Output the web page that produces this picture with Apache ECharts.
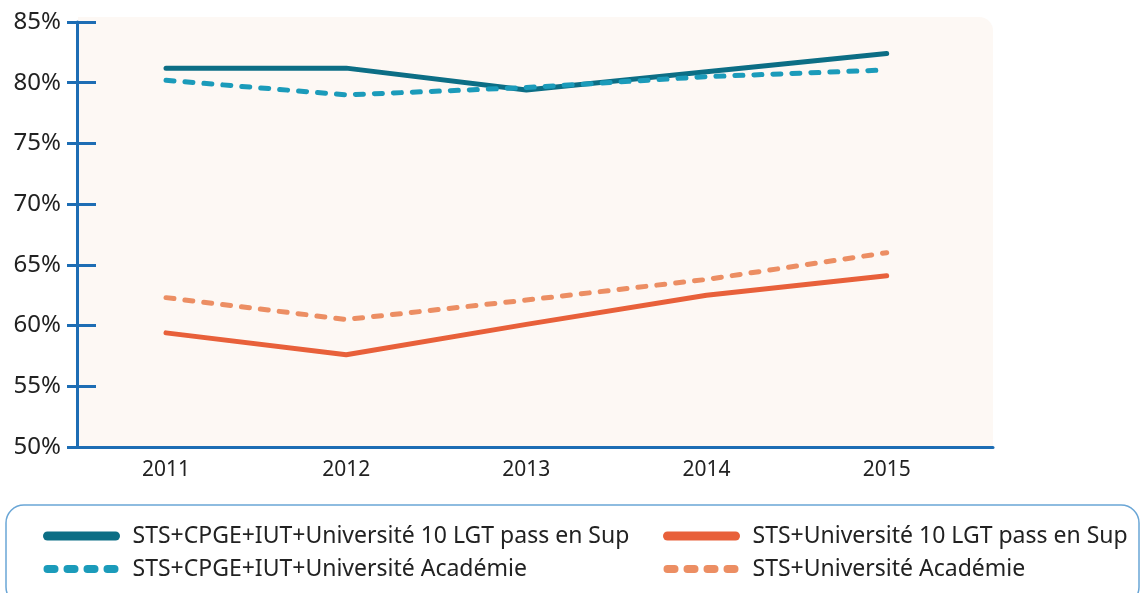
<!DOCTYPE html>
<html>
<head>
<meta charset="utf-8">
<script src="https://cdn.jsdelivr.net/npm/echarts@6/dist/echarts.min.js"></script>
<style>
  html, body { margin: 0; padding: 0; background: #fff; }
  #chart { width: 1145px; height: 593px; }
</style>
</head>
<body>
<div id="chart"></div>
<script>
var years = [2011, 2012, 2013, 2014, 2015];
var seriesNames = [
    'STS+CPGE+IUT+Université 10 LGT pass en Sup',
    'STS+CPGE+IUT+Université Académie',
    'STS+Université 10 LGT pass en Sup',
    'STS+Université Académie'
];
var cpgeLgt = [81.2, 81.2, 79.4, 80.9, 82.4];
var cpgeAcad = [80.2, 79.0, 79.6, 80.5, 81.05];
var univLgt = [59.4, 57.6, 60.1, 62.5, 64.1];
var univAcad = [62.3, 60.5, 62.1, 63.8, 66.0];

var blue = '#1d6db4';
var font = 'Noto Sans';

function pairs(values) {
    return years.map(function (y, i) { return [y, values[i]]; });
}

function line(name, values, color, dashed) {
    return {
        name: name,
        type: 'line',
        data: pairs(values),
        symbol: 'none',
        z: 3,
        lineStyle: {
            color: color,
            width: 5,
            type: dashed ? [8, 11] : 'solid',
            cap: 'round',
            join: 'round'
        },
        itemStyle: { color: color }
    };
}

function legendItem(name, dashed) {
    return {
        name: name,
        itemStyle: { opacity: 0 },
        lineStyle: dashed ? { width: 8, type: [7, 13], cap: 'round' } : { width: 9, type: 'solid', cap: 'round' }
    };
}

var myChart = echarts.init(document.getElementById('chart'));

var legendText = {
    fontFamily: font,
    fontSize: 23,
    color: '#222',
    lineHeight: 26,
    padding: [0, 0, 0, 12]
};

option = {
    backgroundColor: '#fff',
    animation: false,
    textStyle: { fontFamily: font },
    graphic: [
        {
            type: 'rect',
            z: -10,
            shape: { x: 78, y: 17, width: 915, height: 430, r: [0, 14, 0, 0] },
            style: { fill: '#fdf8f4' }
        },
        {
            type: 'rect',
            z: -10,
            shape: { x: 6, y: 505, width: 1133, height: 100, r: 18 },
            style: { fill: '#fff', stroke: '#6aa6d6', lineWidth: 1.5 }
        }
    ],
    grid: { left: 77, right: 152, top: 22, bottom: 146 },
    legend: [
        {
            orient: 'vertical',
            left: 38,
            top: 518,
            itemWidth: 68,
            itemHeight: 12,
            itemGap: 7,
            textStyle: legendText,
            data: [legendItem(seriesNames[0], false), legendItem(seriesNames[1], true)]
        },
        {
            orient: 'vertical',
            left: 658,
            top: 518,
            itemWidth: 68,
            itemHeight: 12,
            itemGap: 7,
            textStyle: legendText,
            data: [legendItem(seriesNames[2], false), legendItem(seriesNames[3], true)]
        }
    ],
    xAxis: {
        type: 'value',
        min: 2010.506,
        max: 2015.59,
        axisLine: { show: true, lineStyle: { color: blue, width: 3 } },
        axisTick: { show: false },
        splitLine: { show: false },
        axisLabel: {
            customValues: years,
            formatter: function (v) { return String(v); },
            margin: 13,
            fontFamily: font,
            fontSize: 21,
            color: '#222'
        }
    },
    yAxis: [
        {
            type: 'value',
            min: 50,
            max: 85,
            interval: 5,
            axisLine: { show: true, lineStyle: { color: blue, width: 3 } },
            axisTick: { show: true, inside: true, length: 19, lineStyle: { color: blue, width: 3 } },
            splitLine: { show: false },
            axisLabel: {
                formatter: '{value}%',
                margin: 16,
                fontFamily: font,
                fontSize: 24,
                color: '#222'
            }
        },
        {
            type: 'value',
            position: 'left',
            min: 50,
            max: 85,
            interval: 5,
            axisLine: { show: false },
            axisTick: { show: true, length: 10, lineStyle: { color: blue, width: 3 } },
            splitLine: { show: false },
            axisLabel: { show: false }
        }
    ],
    series: [
        line(seriesNames[0], cpgeLgt, '#0c6e85', false),
        line(seriesNames[1], cpgeAcad, '#1b9bba', true),
        line(seriesNames[2], univLgt, '#e8603a', false),
        line(seriesNames[3], univAcad, '#ec8e63', true)
    ]
};

myChart.setOption(option);
</script>
</body>
</html>
